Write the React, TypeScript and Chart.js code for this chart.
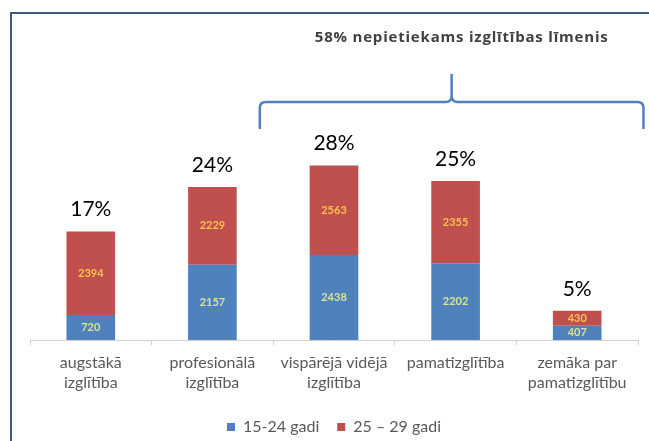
import React, { useEffect, useRef } from "react";
import { Chart, registerables } from "chart.js";

Chart.register(...registerables);

const categories: (string | string[])[] = [
  ["augstākā", "izglītība"],
  ["profesionālā", "izglītība"],
  ["vispārējā vidējā", "izglītība"],
  "pamatizglītība",
  ["zemāka par", "pamatizglītību"],
];
const young = [720, 2157, 2438, 2202, 407];
const older = [2394, 2229, 2563, 2355, 430];
const shares = ["17%", "24%", "28%", "25%", "5%"];
const seriesNames = ["15-24 gadi", "25 – 29 gadi"];
const bracketTitle = "58% nepietiekams izglītības līmenis";

const BLUE = "#4f81bd";
const RED = "#c0504d";
const FONT = "Lato, 'Open Sans', sans-serif";

const decor = {
  id: "decor",
  beforeDraw(chart: any) {
    const { ctx, width, height } = chart;
    ctx.save();
    ctx.fillStyle = "#ffffff";
    ctx.fillRect(0, 0, width, height);
    ctx.strokeStyle = "#45587f";
    ctx.lineWidth = 2;
    ctx.beginPath();
    ctx.moveTo(11, height);
    ctx.lineTo(11, 13);
    ctx.lineTo(width, 13);
    ctx.stroke();
    ctx.restore();
  },
  afterDatasetsDraw(chart: any) {
    const { ctx } = chart;
    const m0 = chart.getDatasetMeta(0);
    const m1 = chart.getDatasetMeta(1);
    ctx.save();
    ctx.textAlign = "center";
    ctx.textBaseline = "middle";
    const small = `bold 11px ${FONT}`;
    ctx.font = small;
    m0.data.forEach((el: any, i: number) => {
      const p = el.getProps(["x", "y", "base"], true);
      ctx.fillStyle = "#d8e58c";
      ctx.fillText(String(young[i]), p.x, (p.y + p.base) / 2);
    });
    m1.data.forEach((el: any, i: number) => {
      const p = el.getProps(["x", "y", "base"], true);
      ctx.fillStyle = "#f8c24c";
      ctx.font = small;
      ctx.fillText(String(older[i]), p.x, (p.y + p.base) / 2);
      ctx.fillStyle = "#000000";
      ctx.font = `21px ${FONT}`;
      ctx.fillText(shares[i], p.x, p.y - 22);
    });
    // bracket
    const xs = chart.scales.x;
    const step = xs.getPixelForValue(1) - xs.getPixelForValue(0);
    const left = xs.getPixelForValue(1) + step * 0.39;
    const right = xs.getPixelForValue(4) + step * 0.545;
    const mid = (left + right) / 2;
    const yH = 102;
    const yEnd = 129;
    const yPeak = 74;
    const r = 6;
    ctx.strokeStyle = BLUE;
    ctx.lineWidth = 2.5;
    ctx.beginPath();
    ctx.moveTo(left, yEnd);
    ctx.lineTo(left, yH + r);
    ctx.quadraticCurveTo(left, yH, left + r, yH);
    ctx.lineTo(mid - r, yH);
    ctx.quadraticCurveTo(mid, yH, mid, yH - r);
    ctx.lineTo(mid, yPeak);
    ctx.moveTo(mid, yH - r);
    ctx.quadraticCurveTo(mid, yH, mid + r, yH);
    ctx.lineTo(right - r, yH);
    ctx.quadraticCurveTo(right, yH, right, yH + r);
    ctx.lineTo(right, yEnd);
    ctx.stroke();
    ctx.fillStyle = "#404040";
    ctx.font = `bold 15px 'Open Sans', sans-serif`;
    (ctx as any).letterSpacing = "0.8px";
    ctx.fillText(bracketTitle, mid + 10, 38);
    ctx.restore();
  },
};

export default function App() {
  const ref = useRef<HTMLCanvasElement | null>(null);
  useEffect(() => {
    if (!ref.current) return;
    const chart = new Chart(ref.current, {
      type: "bar",
      data: {
        labels: categories,
        datasets: [
          { label: seriesNames[0], data: young, backgroundColor: BLUE },
          { label: seriesNames[1], data: older, backgroundColor: RED },
        ],
      },
      options: {
        animation: false,
        responsive: false,
        layout: { padding: { left: 30, right: 11, top: 61, bottom: -4 } },
        datasets: { bar: { categoryPercentage: 1, barPercentage: 0.4 } },
        scales: {
          x: {
            stacked: true,
            border: { color: "#d0d0d0", width: 1 },
            grid: { display: true, drawOnChartArea: false, tickLength: 5, color: "#d0d0d0" },
            ticks: {
              color: "#595959",
              padding: 8,
              maxRotation: 0,
              autoSkip: false,
              font: { family: FONT, size: 16, lineHeight: "20px" },
            },
          },
          y: { stacked: true, display: false, min: 0, max: 8000 },
        },
        plugins: {
          legend: {
            position: "bottom",
            labels: {
              color: "#595959",
              boxWidth: 8,
              boxHeight: 8,
              padding: 18,
              font: { family: FONT, size: 16 },
            },
          },
          tooltip: { enabled: false },
        },
      },
      plugins: [decor],
    });
    return () => chart.destroy();
  }, []);
  return (
    <div style={{ position: "fixed", left: 0, top: 0, width: 649, height: 441 }}>
      <canvas ref={ref} width={649} height={441} style={{ display: "block" }} />
    </div>
  );
}
